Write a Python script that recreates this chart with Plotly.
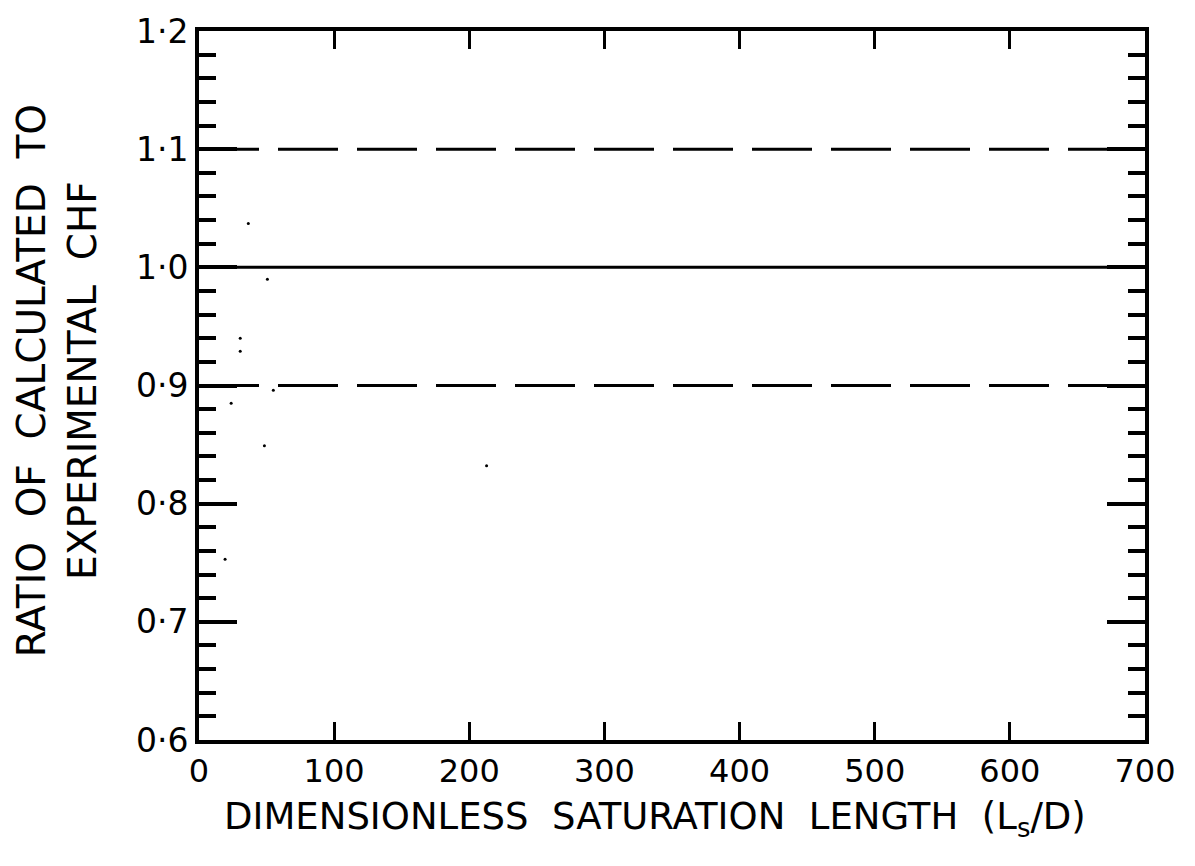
import plotly.graph_objects as go

# Data
x_range = [0, 700]
ref_solid_y = 1.0
ref_dash_y = [1.1, 0.9]
pts_x = [36.5, 50.6, 30.5, 30.5, 55.0, 23.8, 48.4, 19.3, 212.8]
pts_y = [1.037, 0.990, 0.940, 0.929, 0.896, 0.885, 0.849, 0.753, 0.832]

x_tickvals = [0, 100, 200, 300, 400, 500, 600, 700]
x_ticktext = ["0", "100", "200", "300", "400", "500", "600", "700"]
y_tickvals = [0.6, 0.7, 0.8, 0.9, 1.0, 1.1, 1.2]
y_ticktext = ["0·6", "0·7", "0·8", "0·9", "1·0", "1·1", "1·2"]

FONT = "DejaVu Sans"

fig = go.Figure()
fig.add_trace(go.Scatter(x=x_range, y=[ref_solid_y, ref_solid_y], mode="lines",
                         line=dict(color="black", width=3), showlegend=False))
for yv in ref_dash_y:
    fig.add_trace(go.Scatter(x=x_range, y=[yv, yv], mode="lines",
                             line=dict(color="black", width=3, dash="60px,19px"),
                             showlegend=False))
fig.add_trace(go.Scatter(x=pts_x, y=pts_y, mode="markers",
                         marker=dict(color="black", size=3), showlegend=False))

fig.update_layout(
    width=1195, height=866,
    margin=dict(l=199, r=50, t=25, b=126),
    paper_bgcolor="white", plot_bgcolor="white",
    font=dict(family=FONT, color="black"),
)
fig.update_xaxes(
    range=x_range, tickvals=x_tickvals, ticktext=x_ticktext,
    ticks="inside", ticklen=18, tickwidth=3, tickcolor="black",
    showline=True, linecolor="black", linewidth=4, mirror="ticks",
    showgrid=False, zeroline=False,
    tickfont=dict(size=32, family=FONT, color="black"),
)
fig.update_yaxes(
    range=[0.6, 1.2], tickvals=y_tickvals, ticktext=y_ticktext,
    ticks="inside", ticklen=38, tickwidth=4, tickcolor="black",
    showline=True, linecolor="black", linewidth=4, mirror="ticks",
    showgrid=False, zeroline=False,
    minor=dict(dtick=0.02, tick0=0.6, ticks="inside", ticklen=17, tickwidth=4,
               tickcolor="black", showgrid=False),
    tickfont=dict(size=33, family=FONT, color="black"),
)

fig.add_annotation(
    text="DIMENSIONLESS  SATURATION  LENGTH  (L<sub>s</sub>/D)",
    xref="paper", yref="paper", x=0.482, y=-0.112,
    xanchor="center", yanchor="middle", showarrow=False,
    font=dict(size=37, family=FONT, color="black"),
)
fig.add_annotation(
    text="RATIO  OF  CALCULATED  TO<br>EXPERIMENTAL  CHF",
    xref="paper", yref="paper", x=-0.150, y=0.506,
    xanchor="center", yanchor="middle", showarrow=False, textangle=-90,
    font=dict(size=39, family=FONT, color="black"),
)

fig.write_html("out.html")
